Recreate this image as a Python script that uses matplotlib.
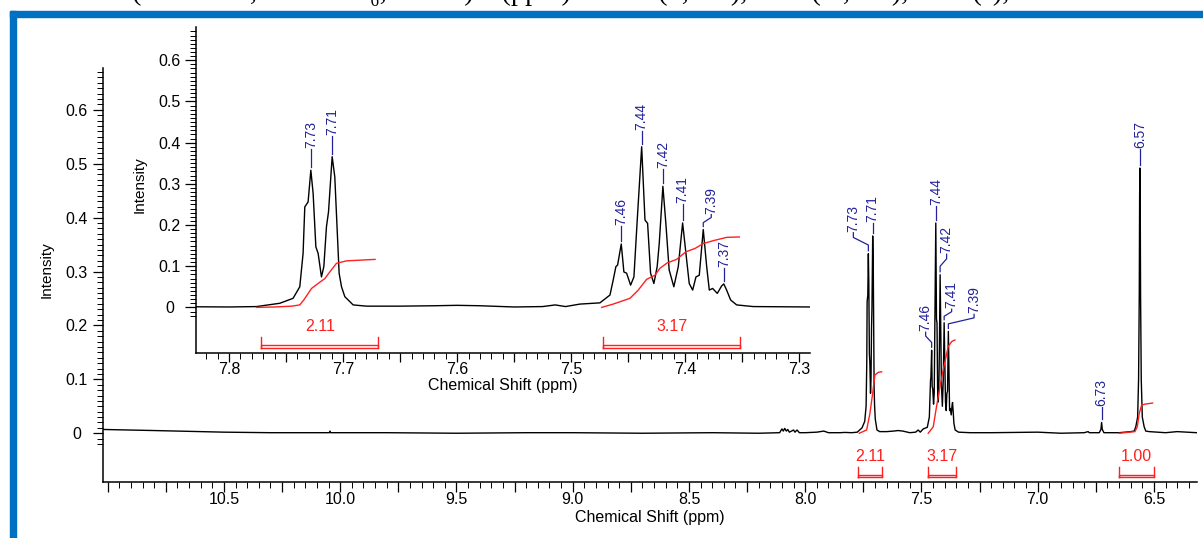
import numpy as np
import matplotlib
matplotlib.use('Agg')
import matplotlib.pyplot as plt
from matplotlib.patches import Rectangle
from matplotlib.ticker import FixedLocator, FuncFormatter

plt.rcParams['font.family'] = ['Liberation Sans', 'DejaVu Sans']

# 1H spectrum (ppm, intensity)
shift_ppm = [11.02, 10.90, 10.80, 10.70, 10.60, 10.50, 10.30, 10.10, 10.047, 10.044, 10.041,
             9.80, 9.50, 9.20, 9.00, 8.70, 8.40, 8.20, 8.11, 8.100, 8.094, 8.088, 8.081,
             8.075, 8.068, 8.050, 8.044, 8.035, 8.025, 8.000, 7.950, 7.920, 7.900, 7.850,
             7.829, 7.800, 7.776, 7.7555, 7.7439, 7.738, 7.7351, 7.7336, 7.7307, 7.7283,
             7.7263, 7.7239, 7.7219, 7.7190, 7.7169, 7.7146, 7.7128, 7.7096, 7.7073, 7.7053,
             7.7035, 7.7014, 7.6985, 7.6912, 7.6795, 7.650, 7.620, 7.600, 7.580, 7.550,
             7.525, 7.514, 7.505, 7.4924, 7.4748, 7.4660, 7.4632, 7.4608, 7.4593, 7.4561,
             7.4538, 7.4514, 7.4479, 7.4450, 7.4421, 7.4382, 7.4353, 7.4330, 7.4304, 7.4275,
             7.4246, 7.4228, 7.4196, 7.4170, 7.4141, 7.4100, 7.4061, 7.4023, 7.3994, 7.3965,
             7.3935, 7.3906, 7.3877, 7.3842, 7.3812, 7.3789, 7.3760, 7.3719, 7.3681, 7.3662,
             7.3637, 7.3602, 7.3549, 7.3404, 7.2900, 7.200, 7.000, 6.900, 6.800, 6.783,
             6.778, 6.735, 6.728, 6.725, 6.722, 6.715, 6.650, 6.600, 6.585, 6.578, 6.570,
             6.566, 6.563, 6.5615, 6.5602, 6.5590, 6.5575, 6.5545, 6.550, 6.542, 6.535,
             6.520, 6.450, 6.400, 6.316]
intensity = [0.007, 0.006, 0.005, 0.004, 0.003, 0.002, 0.001, 0.001, 0.001, 0.004, 0.001,
             0.001, 0.000, 0.001, 0.001, 0.000, 0.001, 0.000, 0.001, 0.008, 0.004, 0.009, 0.004,
             0.007, 0.002, 0.006, 0.002, 0.006, 0.001, 0.001, 0.002, 0.004, 0.001, 0.001,
             0.0015, 0.001, 0.002, 0.010, 0.022, 0.050, 0.131, 0.244, 0.256, 0.333,
             0.277, 0.147, 0.131, 0.074, 0.099, 0.196, 0.232, 0.366, 0.317, 0.196,
             0.083, 0.050, 0.026, 0.006, 0.003, 0.003, 0.004, 0.005, 0.004, 0.001,
             0.002, 0.006, 0.002, 0.008, 0.011, 0.030, 0.066, 0.099, 0.103, 0.154,
             0.086, 0.083, 0.054, 0.074, 0.212, 0.390, 0.212, 0.204, 0.083, 0.058,
             0.099, 0.155, 0.294, 0.204, 0.091, 0.050, 0.099, 0.205, 0.131, 0.058,
             0.042, 0.074, 0.078, 0.189, 0.099, 0.042, 0.046, 0.034, 0.052, 0.057,
             0.042, 0.018, 0.006, 0.002, 0.001, 0.001, 0.002, 0.000, 0.001, 0.003,
             0.001, 0.001, 0.007, 0.020, 0.007, 0.001, 0.001, 0.003, 0.004, 0.012, 0.030,
             0.100, 0.260, 0.440, 0.492, 0.440, 0.260, 0.100, 0.030, 0.012, 0.004,
             0.003, 0.001, 0.003, 0.001]

# integral curves (main panel)
int_main = [
    ([7.7675, 7.7357, 7.7215, 7.7099, 7.700, 7.6858, 7.6712],
     [0, 0.006, 0.037, 0.074, 0.108, 0.113, 0.114]),
    ([7.4707, 7.4492, 7.4376, 7.4204, 7.4032, 7.3847, 7.3701, 7.356],
     [0, 0.012, 0.043, 0.086, 0.124, 0.161, 0.170, 0.173]),
    ([6.649, 6.5817, 6.5716, 6.563, 6.5529, 6.5387, 6.5057],
     [0, 0.003, 0.012, 0.037, 0.052, 0.054, 0.056]),
]
# integral curves (inset)
int_inset = [
    ([7.776, 7.760, 7.745, 7.738, 7.7345, 7.7277, 7.722, 7.716, 7.7117, 7.7058, 7.697, 7.672],
     [0, 0.001, 0.003, 0.006, 0.018, 0.046, 0.058, 0.070, 0.086, 0.107, 0.113, 0.1165]),
    ([7.4733, 7.4632, 7.4485, 7.4412, 7.4339, 7.4266, 7.4222, 7.4158, 7.4076, 7.3994,
      7.3915, 7.3842, 7.3754, 7.3637, 7.3526],
     [0, 0.008, 0.022, 0.042, 0.068, 0.078, 0.095, 0.108, 0.1165, 0.135, 0.143, 0.155,
      0.162, 0.170, 0.171]),
]
integral_ranges = [(7.772, 7.669), (7.472, 7.352), (6.649, 6.500)]
integral_values = ['2.11', '3.17', '1.00']

# peak picking
peak_ppm = [7.7283, 7.7096, 7.4561, 7.4382, 7.4196, 7.4023, 7.3842, 7.3662, 6.725, 6.5602]
peak_text = ['7.73', '7.71', '7.46', '7.44', '7.42', '7.41', '7.39', '7.37', '6.73', '6.57']

BLUE = '#22229a'
RED = '#ff2020'

fig = plt.figure(figsize=(12.03, 5.38), dpi=100)
W, H = 1203.0, 538.0


def fig_box(x0, y0, x1, y1):
    # pixel box (top-left origin) -> figure fraction
    return [x0 / W, 1 - y1 / H, (x1 - x0) / W, (y1 - y0) / H]


# frame + caption line cut off by the top edge (as in the source page)
fig.patches.append(Rectangle((10 / W, 0), 6 / W, 1 - 11 / H, transform=fig.transFigure,
                             color='#0070c0', zorder=0))
fig.patches.append(Rectangle((10 / W, 1 - 16.7 / H), 1, 5.7 / H, transform=fig.transFigure,
                             color='#0070c0', zorder=0))
fig.text(132 / W, 1 + 0.5 / H,
         '(400 MHz, DMSO-d\u2086, 298 K) \u03b4 (ppm) = 7.72 (d, 2H), 7.42 (m, 3H), 6.57 (s), 1H',
         family=['Liberation Serif', 'DejaVu Serif'], fontsize=20.5, va='baseline', ha='left')

ax = fig.add_axes(fig_box(103.3, 68.3, 1196.7, 481.7))
ins = fig.add_axes(fig_box(196, 27.3, 810, 352.7))

x = np.array(shift_ppm)
y = np.array(intensity)


def style_axes(a, xmaj, xmin, xlab, ymin_ticks, xlen, ylen, ypad):
    for s in ['top', 'right']:
        a.spines[s].set_visible(False)
    for s in ['left', 'bottom']:
        a.spines[s].set_linewidth(1.1)
    a.xaxis.set_major_locator(FixedLocator(xmaj))
    a.xaxis.set_minor_locator(FixedLocator(xmin))
    a.xaxis.set_major_formatter(FuncFormatter(lambda v, p: f'{v:.1f}' if any(abs(v - l) < 1e-6 for l in xlab) else ''))
    a.yaxis.set_major_locator(FixedLocator([0, 0.1, 0.2, 0.3, 0.4, 0.5, 0.6]))
    a.yaxis.set_minor_locator(FixedLocator(ymin_ticks))
    a.yaxis.set_major_formatter(FuncFormatter(lambda v, p: '0' if abs(v) < 1e-9 else f'{v:.1f}'))
    a.tick_params(axis='both', which='major', width=0.9, labelsize=11.5)
    a.tick_params(axis='both', which='minor', length=4, width=0.7)
    a.tick_params(axis='x', which='major', length=xlen, pad=0.3)
    a.tick_params(axis='y', which='major', length=ylen, pad=ypad)
    plt.setp(a.get_yticklabels(), ha='center')


yminor = np.round(np.arange(-0.02, 0.675, 0.01), 3)

# main panel
ax.set_xlim(11.019, 6.316)
ax.set_ylim(-0.0899, 0.677)
style_axes(ax, np.round(np.arange(6.5, 11.01, 0.25), 2), np.round(np.arange(6.35, 11.01, 0.05), 2),
           [6.5, 7.0, 7.5, 8.0, 8.5, 9.0, 9.5, 10.0, 10.5], yminor, 7, 7, 12.2)
ax.plot(x, y, color='black', lw=1.0)
for xs, ys in int_main:
    ax.plot(xs, ys, color=RED, lw=1.0)
ax.set_xlabel('Chemical Shift (ppm)', fontsize=11.5, va='center')
ax.xaxis.set_label_coords(0.5, -0.0854)
ax.set_ylabel('Intensity', fontsize=11, va='center')
ax.yaxis.set_label_coords(-0.0518, 0.514)

# inset
ins.set_xlim(7.829, 7.2906)
ins.set_ylim(-0.110, 0.68)
style_axes(ins, np.round(np.arange(7.3, 7.81, 0.05), 2), np.round(np.arange(7.30, 7.83, 0.01), 2),
           [7.3, 7.4, 7.5, 7.6, 7.7, 7.8], yminor, 6.5, 8, 10.8)
ins.plot(x, y, color='black', lw=1.0)
for xs, ys in int_inset:
    ins.plot(xs, ys, color=RED, lw=1.0)
ins.set_xlabel('Chemical Shift (ppm)', fontsize=11.5, va='center')
ins.xaxis.set_label_coords(0.5, -0.102)
ins.set_ylabel('Intensity', fontsize=11, va='center')
ins.yaxis.set_label_coords(-0.0912, 0.515)


def bracket(a, x0, x1, y_lo, y_hi, y_top, y_txt, txt):
    a.plot([x0, x1, x1, x0, x0], [y_lo, y_lo, y_hi, y_hi, y_lo], color=RED, lw=1.0)
    a.plot([x0, x0], [y_lo, y_top], color=RED, lw=1.0)
    a.plot([x1, x1], [y_lo, y_top], color=RED, lw=1.0)
    a.text((x0 + x1) / 2, y_txt, txt, color=RED, fontsize=11.5, ha='center', va='center')


for (x0, x1), v in zip(integral_ranges, integral_values):
    bracket(ax, x0, x1, -0.0816, -0.0774, -0.062, -0.0434, v)
for (x0, x1), v in zip(integral_ranges[:2], integral_values[:2]):
    bracket(ins, x0, x1, -0.098, -0.0915, -0.0714, -0.047, v)


def peak_label(a, ppm, txt, dx, lift):
    h = np.interp(ppm, x[::-1], y[::-1])
    tr = a.transData
    x0, y0 = tr.transform((ppm, h))
    gap = 3
    if dx == 0:
        pts = [(x0, y0 + gap), (x0, y0 + lift - 1)]
    else:
        r = lift - gap
        pts = [(x0, y0 + gap), (x0, y0 + gap + 0.3 * r), (x0 + dx, y0 + gap + 0.7 * r),
               (x0 + dx, y0 + lift - 1)]
    dp = tr.inverted().transform(pts)
    a.plot(dp[:, 0], dp[:, 1], color=BLUE, lw=0.9, clip_on=False)
    tx, ty = tr.inverted().transform((x0 + dx, y0 + lift))
    a.text(tx, ty, txt, rotation=90, ha='center', va='bottom', color=BLUE, fontsize=10,
           clip_on=False)


# main panel labels: (index, dx px, lift px)
main_lab = [(0, -15, 22), (1, 0, 14), (2, -6, 19), (3, 0, 18), (4, 6.5, 21.5),
            (5, 7.5, 14.5), (6, 25.7, 18), (8, 0, 16), (9, 0, 20)]
for i, dx, lift in main_lab:
    peak_label(ax, peak_ppm[i], peak_text[i], dx, lift)

ins_lab = [(0, 0, 22), (1, 0, 21.5), (2, 0, 19), (3, 0, 16.6), (4, 0, 18),
           (5, 0, 19.5), (6, 8, 16), (7, 0, 17)]
for i, dx, lift in ins_lab:
    peak_label(ins, peak_ppm[i], peak_text[i], dx, lift)

fig.savefig('out.png', dpi=100)
